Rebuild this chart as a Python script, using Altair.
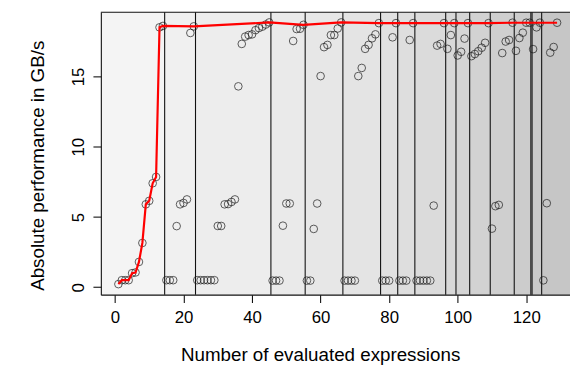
import altair as alt
import pandas as pd

# ---- data ----
perf = [
    0.22, 0.50, 0.50, 0.50, 1.00, 1.05, 1.80, 3.15, 5.90, 6.15, 7.40, 7.85, 18.50, 18.60,   # 1-14
    0.50, 0.50, 0.50, 4.35, 5.90, 6.00, 6.25, 18.10, 18.57,                                 # 15-23
    0.50, 0.50, 0.50, 0.50, 0.50, 0.50, 4.36, 4.36, 5.90, 5.92, 6.07, 6.25, 14.30, 17.32,   # 24-37
    17.84, 17.95, 18.00, 18.30, 18.45, 18.55, 18.70, 18.85,                                 # 38-45
    0.47, 0.47, 0.47, 4.38, 5.96, 5.96, 17.53, 18.38, 18.40, 18.68,                         # 46-55
    0.47, 0.47, 4.15, 5.96, 15.03, 17.09, 17.25, 17.95, 17.95, 18.42, 18.85,                # 56-66
    0.47, 0.47, 0.47, 0.47, 15.03, 15.61, 16.97, 17.25, 17.72, 18.00, 18.80,                # 67-77
    0.47, 0.47, 0.47, 17.79, 18.80,                                                         # 78-82
    0.47, 0.47, 0.47, 17.60, 18.80,                                                         # 83-87
    0.47, 0.47, 0.47, 0.47, 0.47, 5.81, 17.20, 17.32, 18.80,                                # 88-96
    16.97, 17.95, 18.80,                                                                    # 97-99
    16.50, 16.76, 17.70, 18.80,                                                             # 100-103
    16.45, 16.60, 16.80, 17.05, 17.40, 18.80,                                               # 104-109
    4.17, 5.77, 5.86, 16.67, 17.49, 17.60, 18.83,                                           # 110-116
    16.83, 17.74, 18.12, 18.83, 18.83,                                                      # 117-121
    16.95, 18.50, 18.83,                                                                    # 122-124
    0.49, 5.98, 16.70, 17.10, 18.83,                                                        # 125-129
]
expr = list(range(1, len(perf) + 1))

best_x = [1, 2, 3, 4, 5, 6, 7, 8, 9, 10, 11, 12, 13, 14, 23, 45, 55, 66, 77, 82, 87,
          96, 99, 103, 109, 116, 121, 124, 129]
best_y = [perf[i - 1] for i in best_x]

band_edges = [14.5, 23.5, 45.5, 55.5, 66.5, 77.5, 82.5, 87.5, 96.5, 99.5, 103.5,
              109.5, 116.5, 121.5, 124.5]
line_pos = [14.5, 23.5, 45.5, 55.5, 66.5, 77.5, 82.5, 87.5, 96.5, 99.5, 103.5,
            109.5, 116.5, 121.35, 121.7, 124.5]
band_grays = [244, 240, 237, 234, 231, 228, 225, 222, 219, 216, 213, 210, 207, 204, 201, 198]

x_ticks = [0, 20, 40, 60, 80, 100, 120]
y_ticks = [0, 5, 10, 15]

X_DOM = [-4.12, 132.77]
Y_DOM = [-0.53, 19.58]
W, H = 475, 286
FONT = "Liberation Sans"
FS = 17
TFS = 19

# ---- tables ----
pts = pd.DataFrame({"x": expr, "y": perf})
best = pd.DataFrame({"x": best_x, "y": best_y})
edges = [X_DOM[0]] + band_edges + [X_DOM[1]]
bands = pd.DataFrame({
    "x": edges[:-1], "x2": edges[1:],
    "y": [Y_DOM[0]] * len(band_grays), "y2": [Y_DOM[1]] * len(band_grays),
    "fill": ["#%02x%02x%02x" % (g, g, g) for g in band_grays],
})
vlines = pd.DataFrame({"x": line_pos, "y": [Y_DOM[0]] * len(line_pos),
                       "y2": [Y_DOM[1]] * len(line_pos)})
frame = pd.DataFrame({"x": [X_DOM[0]], "x2": [X_DOM[1]], "y": [Y_DOM[1]]})

xs = alt.Scale(domain=X_DOM, nice=False, zero=False)
ys = alt.Scale(domain=Y_DOM, nice=False, zero=False)
xaxis = alt.Axis(values=x_ticks, title="Number of evaluated expressions",
                 tickSize=8, labelPadding=7, titlePadding=21, titleX=222, grid=False, zindex=2)
yaxis = alt.Axis(values=y_ticks, title="Absolute performance in GB/s",
                 tickSize=8, labelPadding=6, titlePadding=22, titleY=155, grid=False,
                 labelAngle=270, labelAlign="center", labelBaseline="bottom", zindex=2)


def X(f="x"):
    return alt.X(f, type="quantitative", scale=xs, axis=xaxis)


def Y(f="y"):
    return alt.Y(f, type="quantitative", scale=ys, axis=yaxis)


band_layer = alt.Chart(bands).mark_rect(strokeWidth=0).encode(
    x=X(), x2="x2", y=Y(), y2="y2", fill=alt.Fill("fill:N", scale=None))

line_layer = alt.Chart(vlines).mark_rule(color="#111111", strokeWidth=1.1).encode(
    x=X(), y=Y(), y2="y2")

top_layer = alt.Chart(frame).mark_rule(color="#111111", strokeWidth=1.1).encode(
    x=X(), x2="x2", y=Y())

pt_layer = alt.Chart(pts).mark_point(shape="circle", filled=False, size=60,
                                     color="#1a1a1a", strokeWidth=1).encode(x=X(), y=Y())

best_layer = alt.Chart(best).mark_line(color="#ff0000", strokeWidth=2.2).encode(x=X(), y=Y())

chart = alt.layer(band_layer, line_layer, top_layer, pt_layer, best_layer).properties(
    width=W, height=H,
    padding={"left": 94, "top": 2, "right": 0, "bottom": 70},
    autosize=alt.AutoSizeParams(type="none"),
    background="white",
).configure_view(stroke=None).configure_axis(
    domainColor="#111111", domainWidth=1.1, tickColor="#111111", tickWidth=1.1,
    labelFont=FONT, labelFontSize=FS, labelColor="#000000",
    titleFont=FONT, titleFontSize=TFS, titleColor="#000000", titleFontWeight="normal",
)

chart.save("out.html", embed_options={"renderer": "svg", "actions": False})
